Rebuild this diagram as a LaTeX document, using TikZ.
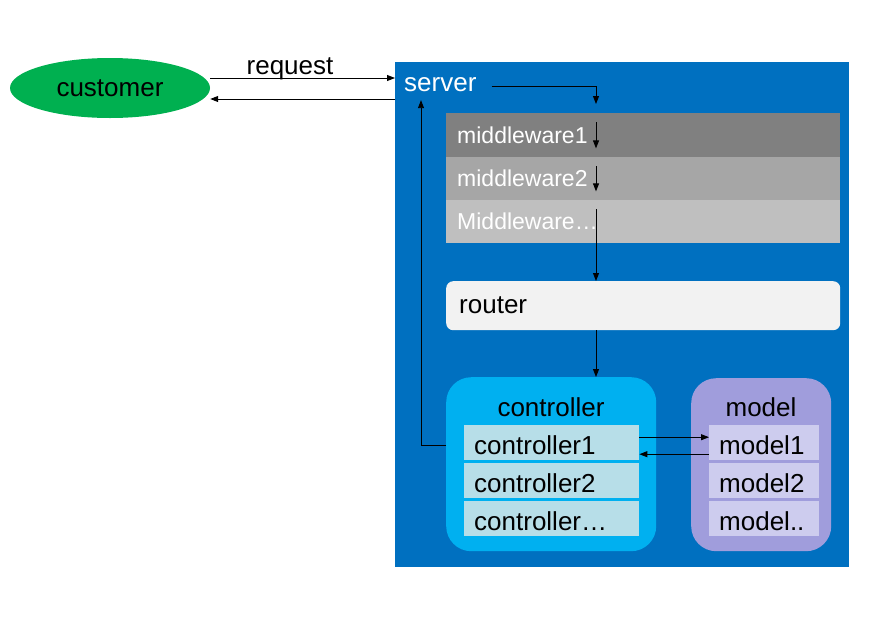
\documentclass[tikz,border=0pt]{standalone}
\usepackage{fontspec}
\setmainfont{Liberation Sans}
\usetikzlibrary{shapes.geometric,arrows.meta,calc}
\definecolor{srvblue}{HTML}{0070C0}
\definecolor{custgreen}{HTML}{00B050}
\definecolor{mwA}{HTML}{808080}
\definecolor{mwB}{HTML}{A6A6A6}
\definecolor{mwC}{HTML}{BFBFBF}
\definecolor{routerfill}{HTML}{F2F2F2}
\definecolor{ctrlfill}{HTML}{00B0F0}
\definecolor{ctrlrow}{HTML}{B7DEE8}
\definecolor{modelfill}{HTML}{A09DDC}
\definecolor{modelrow}{HTML}{CDCCEE}
\begin{document}
\begin{tikzpicture}[x=1pt,y=-1pt,
  font=\fontsize{26}{30}\selectfont,
  arr/.style={-{Triangle[length=8pt,width=6pt]}, line width=0.9pt},
  mwrow/.style={anchor=north west, inner xsep=11pt, inner ysep=0pt, text width=372pt, align=left, text=white, font=\fontsize{23}{27}\selectfont},
  crow/.style={anchor=north west, fill=ctrlrow, inner xsep=10pt, inner ysep=0pt, text width=155pt, minimum height=35pt, align=left, text height=24pt, text depth=0pt},
  mrow/.style={anchor=north west, fill=modelrow, inner xsep=10pt, inner ysep=0pt, text width=90pt, minimum height=35pt, align=left, text height=24pt, text depth=0pt},
  panel/.style={anchor=north west, inner sep=0pt, rounded corners=25pt}]
\useasboundingbox (0,0) rectangle (872,619);

% customer
\node[ellipse, fill=custgreen, minimum width=200pt, minimum height=60pt, inner sep=0pt] (cust) at (110,88) {customer};

% server
\node[fill=srvblue, anchor=north west, inner sep=0pt, minimum width=454pt, minimum height=505pt] (srv) at (395,62) {};
\node[anchor=base west, inner xsep=0pt, inner ysep=8pt, text=white] (srvlbl) at (404,91.7) {server};

% middleware
\node[mwrow, fill=mwA, minimum height=44pt] (mw1) at (446,113) {middleware1};
\node[mwrow, fill=mwB, minimum height=43pt] (mw2) at (446,157) {middleware2};
\node[mwrow, fill=mwC, minimum height=43pt] (mw3) at (446,200) {Middleware\ldots};

% router
\node[anchor=north west, fill=routerfill, rounded corners=7pt, inner xsep=13pt, inner ysep=0pt, text width=368pt, minimum height=49pt, align=left] (router) at (446,281) {router};

% controller
\node[panel, fill=ctrlfill, minimum width=210pt, minimum height=174pt] (ctrl) at (446,377) {};
\node[anchor=base] (ctitle) at (551,416) {controller};
\node[crow] (c1) at (464,425) {controller1};
\node[crow] (c2) at (464,463) {controller2};
\node[crow] (c3) at (464,501) {controller\ldots};

% model
\node[panel, fill=modelfill, minimum width=140pt, minimum height=173pt] (model) at (691,378) {};
\node[anchor=base] (mtitle) at (761,416) {model};
\node[mrow] (m1) at (709,425) {model1};
\node[mrow] (m2) at (709,463) {model2};
\node[mrow] (m3) at (709,501) {model..};

% customer <-> server
\node[anchor=base] (reqlbl) at (290,74) {request};
\draw[arr] ([yshift=10pt]cust.east) -- ([yshift=10pt]cust.east -| srv.west);
\draw[arr] ([yshift=-11pt]cust.east -| srv.west) -- ([yshift=-11pt]cust.east);

% flow down
\coordinate (bx) at (596,0);
\draw[arr] ([xshift=15pt,yshift=-1.5pt]srvlbl.east) -| ([yshift=9pt]mw1.north -| bx);
\draw[arr] ([yshift=-9pt]mw1.north -| bx) -- ([yshift=9pt]mw1.south -| bx);
\draw[arr] ([yshift=-9pt]mw2.north -| bx) -- ([yshift=9pt]mw2.south -| bx);
\draw[arr] ([yshift=-9pt]mw3.north -| bx) -- (router.north -| bx);
\draw[arr] (router.south -| bx) -- (ctrl.north -| bx);

% controller <-> model
\draw[arr] ([yshift=5.5pt]c1.east) -- ([yshift=5.5pt]c1.east -| m1.west);
\draw[arr] ([yshift=-11.5pt]c1.east -| m1.west) -- ([yshift=-11.5pt]c1.east);

% return to server
\coordinate (rx) at (421,445);
\draw[arr] (ctrl.west |- rx) -- (rx) -- (rx |- srvlbl.south);
\end{tikzpicture}
\end{document}
